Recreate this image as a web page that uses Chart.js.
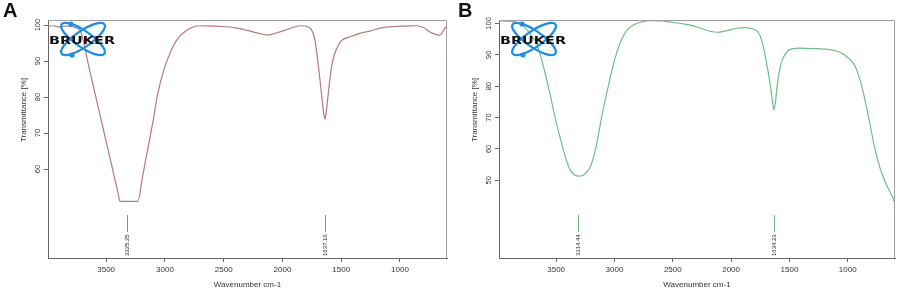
<!DOCTYPE html>
<html>
<head>
<meta charset="utf-8">
<script src="https://cdn.jsdelivr.net/npm/chart.js@4"></script>
<style>
  body { margin: 0; background: #fff; width: 899px; height: 292px; position: relative; overflow: hidden; }
  .box { position: absolute; top: 0; height: 292px; }
  .tag { position: absolute; top: -1px; font: bold 20px Arial, "Liberation Sans", sans-serif; color: #111; z-index: 2; }
</style>
</head>
<body>
<div class="box" style="left:0;width:450px"><canvas id="chartA" width="450" height="292"></canvas></div>
<div class="box" style="left:450px;width:449px"><canvas id="chartB" width="449" height="292"></canvas></div>
<div class="tag" style="left:3px">A</div>
<div class="tag" style="left:458px">B</div>
<script>
// spectrum A (wavenumber cm-1 / transmittance %)
const wavenumA = [3995, 3950, 3900, 3850, 3800, 3760, 3722, 3690, 3654, 3600, 3550, 3500, 3450, 3400, 3382,
  3231, 3190, 3144, 3100, 3067, 3010, 2957, 2900, 2812, 2700, 2600, 2500, 2400, 2300, 2200, 2126,
  2050, 1950, 1850, 1790, 1760, 1740, 1720, 1705, 1690, 1675, 1660, 1648, 1637, 1627, 1615, 1600,
  1585, 1570, 1554, 1530, 1500, 1420, 1342, 1250, 1150, 1050, 950, 860, 800, 746, 700, 661, 630, 610, 601];
const transA = [99.7, 99.8, 99.5, 99.7, 99.6, 99.3, 98.6, 95, 89.4, 81.8, 74.7, 67.6, 60.6, 53.5, 51,
  51, 58, 66, 73.5, 80, 87.5, 92.2, 95.8, 98.6, 99.8, 99.7, 99.6, 99.2, 98.5, 97.7, 97.2,
  97.8, 98.9, 99.8, 99.6, 99.0, 97.8, 95.2, 91.5, 87.5, 83, 78.5, 75.2, 73.9, 76, 79.5, 84,
  87.8, 90.3, 92.2, 94, 95.6, 96.8, 97.7, 98.4, 99.3, 99.6, 99.7, 99.8, 99.3, 98.1, 97.4, 97.2, 98.5, 99.5, 99.4];

// spectrum B
const wavenumB = [3990, 3900, 3830, 3790, 3740, 3700, 3668, 3600, 3554, 3500, 3469, 3441, 3412, 3380, 3341,
  3310, 3270, 3240, 3213, 3190, 3156, 3100, 3050, 3014, 2960, 2900, 2850, 2786, 2700, 2600, 2500,
  2400, 2331, 2250, 2180, 2117, 2050, 1960, 1889, 1820, 1780, 1750, 1720, 1700, 1680, 1661, 1645,
  1634, 1620, 1605, 1585, 1562, 1530, 1505, 1460, 1420, 1300, 1192, 1100, 1050, 990, 935, 880,
  822, 765, 720, 679, 640, 608, 596];
const transB = [100.9, 100.7, 100.3, 99.5, 97.5, 95.5, 93.7, 85, 77.7, 68.5, 64, 60.1, 56.4, 53.3, 51.7,
  51.3, 51.6, 52.5, 53.8, 56, 61, 72, 80.5, 86.2, 93, 97.5, 99.3, 100.3, 100.9, 100.8, 100.3,
  99.8, 99.3, 98.3, 97.5, 97.2, 97.6, 98.4, 98.7, 98.3, 97.6, 96, 92, 88, 84, 79.5, 75,
  72.4, 75, 80, 85, 88.3, 90.5, 91.5, 92, 92.1, 92, 91.8, 91.2, 90.5, 88.8, 86.2, 80,
  70.2, 59.6, 53.5, 49.5, 46.5, 44.2, 43.6];

const xTicks = [3500, 3000, 2500, 2000, 1500, 1000];
const yTicksA = [60, 70, 80, 90, 100];
const yTicksB = [50, 60, 70, 80, 90, 100];
const peaksA = [3325.25, 1637.16];
const peaksB = [3314.44, 1634.23];

const FONT = 'Arial, "Liberation Sans", sans-serif';

// box, peak markers, logo and y title
const extras = {
  id: 'extras',
  afterDatasetsDraw(chart, args, opts) {
    const ctx = chart.ctx;
    const a = chart.chartArea;
    const xs = chart.scales.x;
    ctx.save();
    // top/right frame
    ctx.strokeStyle = '#a0a0a0';
    ctx.lineWidth = 1;
    ctx.beginPath();
    ctx.moveTo(a.left, a.top + 0.5);
    ctx.lineTo(a.right - 0.5, a.top + 0.5);
    ctx.lineTo(a.right - 0.5, a.bottom);
    ctx.stroke();

    // peak markers
    opts.peaks.forEach(p => {
      const x = Math.round(xs.getPixelForValue(p)) + 0.5;
      ctx.strokeStyle = opts.color;
      ctx.beginPath();
      ctx.moveTo(x, a.bottom - 43);
      ctx.lineTo(x, a.bottom - 26);
      ctx.stroke();
      ctx.save();
      ctx.translate(x, a.bottom - 2);
      ctx.rotate(-Math.PI / 2);
      ctx.font = '6px ' + FONT;
      ctx.fillStyle = '#222';
      ctx.textAlign = 'left';
      ctx.textBaseline = 'middle';
      ctx.fillText(p.toFixed(2), 0, 0);
      ctx.restore();
    });

    // logo
    const cx = a.left + 35, cy = 39;
    ctx.strokeStyle = '#1b8fe6';
    ctx.fillStyle = '#1b8fe6';
    ctx.lineWidth = 2.3;
    [-0.6, 0.6].forEach(r => {
      ctx.beginPath();
      ctx.ellipse(cx, cy, 26, 8, r, 0, Math.PI * 2);
      ctx.stroke();
    });
    [[-12, -15], [-11, 16]].forEach(d => {
      ctx.beginPath();
      ctx.arc(cx + d[0], cy + d[1], 2.6, 0, Math.PI * 2);
      ctx.fill();
    });
    ctx.font = 'bold 10px "DejaVu Sans", ' + FONT;
    const w = ctx.measureText('BRUKER').width;
    ctx.save();
    ctx.translate(a.left + 1, 43.5);
    ctx.scale(66 / w, 1);
    ctx.fillStyle = '#111';
    ctx.textBaseline = 'alphabetic';
    ctx.fillText('BRUKER', 0, 0);
    ctx.restore();

    // y axis title
    ctx.save();
    ctx.translate(a.left - 24, 110);
    ctx.rotate(-Math.PI / 2);
    ctx.font = '8px ' + FONT;
    ctx.fillStyle = '#333';
    ctx.textAlign = 'center';
    ctx.textBaseline = 'middle';
    ctx.fillText('Transmittance [%]', 0, 0);
    ctx.restore();

    ctx.restore();
  }
};

function makeChart(id, wavenums, trans, color, xMin, xMax, yMin, yMax, yTicks, peaks, axisW, padRight, endDot) {
  const n = wavenums.length;
  new Chart(document.getElementById(id), {
    type: 'line',
    data: {
      datasets: [{
        data: wavenums.map((w, i) => ({ x: w, y: trans[i] })),
        borderColor: color,
        borderWidth: 1.2,
        pointRadius: c => (endDot && c.dataIndex === n - 1 ? 1.4 : 0),
        pointBackgroundColor: '#1f6b3a',
        pointBorderWidth: 0,
        cubicInterpolationMode: 'monotone',
        fill: false
      }]
    },
    options: {
      responsive: false,
      animation: false,
      devicePixelRatio: 1,
      layout: { padding: { top: 20, right: padRight, left: 0, bottom: 0 } },
      plugins: {
        legend: { display: false },
        tooltip: { enabled: false },
        extras: { peaks: peaks, color: color }
      },
      scales: {
        x: {
          type: 'linear',
          reverse: true,
          min: xMin,
          max: xMax,
          afterBuildTicks: s => { s.ticks = xTicks.map(v => ({ value: v })); },
          afterFit: s => { s.height = 34; },
          grid: { drawOnChartArea: false, tickLength: 4, color: '#666' },
          border: { color: '#666', width: 1 },
          ticks: { font: { size: 8, family: FONT }, color: '#333', padding: 3, maxRotation: 0, callback: v => String(v) },
          title: { display: true, text: 'Wavenumber cm-1', font: { size: 8, family: FONT }, color: '#333', padding: { top: 0, bottom: 2 } }
        },
        y: {
          min: yMin,
          max: yMax,
          afterBuildTicks: s => { s.ticks = yTicks.map(v => ({ value: v })); },
          afterFit: s => { s.width = axisW; },
          grid: { drawOnChartArea: false, tickLength: 4, color: '#666' },
          border: { color: '#666', width: 1 },
          ticks: { font: { size: 7.5, family: FONT }, color: '#333', padding: 0, minRotation: 90, maxRotation: 90, crossAlign: 'center', callback: v => String(v) }
        }
      }
    },
    plugins: [extras]
  });
}

makeChart('chartA', wavenumA, transA, '#b4797f', 600, 3995, 35.3, 101.4, yTicksA, peaksA, 48, 3, false);
makeChart('chartB', wavenumB, transB, '#6cbd8a', 595, 3990, 25.2, 101.1, yTicksB, peaksB, 49, 2, true);
</script>
</body>
</html>
